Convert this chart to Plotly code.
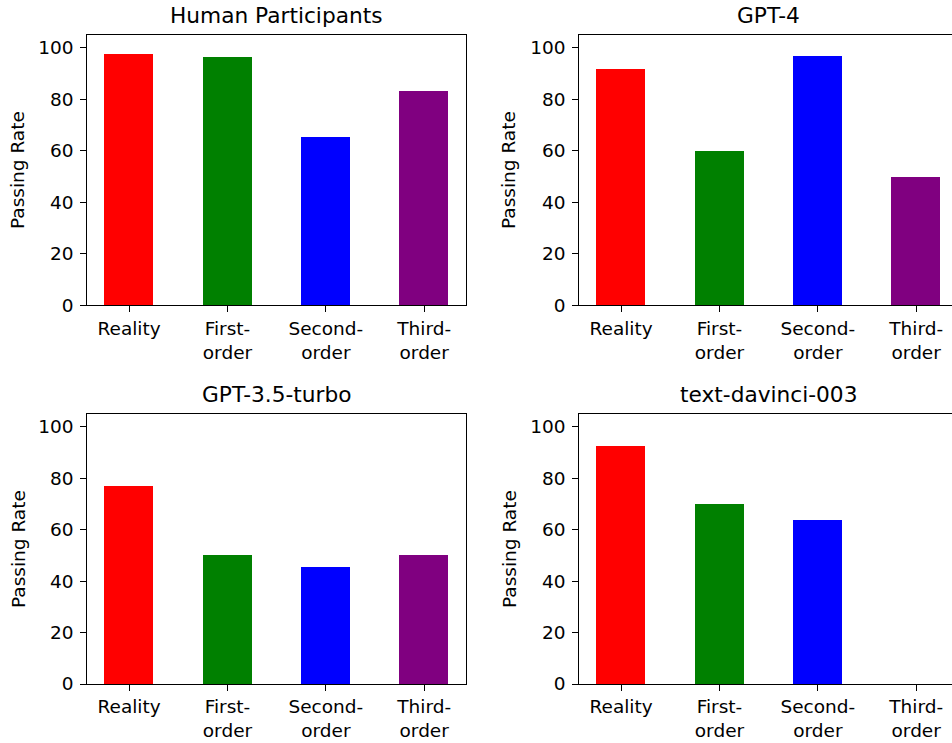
import plotly.graph_objects as go

categories = ["Reality", "First-<br>order", "Second-<br>order", "Third-<br>order"]
bar_colors = ["red", "green", "blue", "purple"]

titles = ["Human Participants", "GPT-4", "GPT-3.5-turbo", "text-davinci-003"]
human_vals = [97.7, 96.5, 65.3, 83.2]
gpt4_vals = [92.0, 60.0, 97.0, 50.0]
gpt35_vals = [77.0, 50.0, 45.5, 50.0]
davinci_vals = [92.5, 70.0, 63.7, 0.0]
all_vals = [human_vals, gpt4_vals, gpt35_vals, davinci_vals]

W, H = 952, 743
FONT = "DejaVu Sans"

# panel pixel boxes: (left, right, top, bottom)
boxes = [
    (87.3, 466.0, 34.7, 305.3),
    (579.3, 952.0, 34.7, 305.3),
    (87.3, 466.0, 414.0, 684.0),
    (579.3, 952.0, 414.0, 684.0),
]
ylabel_x = [18, 509, 18, 509]
px_per_unit = (466.0 - 87.3) / 3.85

fig = go.Figure()
annotations = []
for i, (vals, title, box) in enumerate(zip(all_vals, titles, boxes)):
    l, r, t, b = box
    n = i + 1
    xa = "x" if n == 1 else f"x{n}"
    ya = "y" if n == 1 else f"y{n}"
    fig.add_trace(go.Bar(
        x=categories, y=vals, marker=dict(color=bar_colors, line=dict(width=0)),
        width=0.5, xaxis=xa, yaxis=ya, showlegend=False,
    ))
    right_col = (i % 2 == 1)
    xmax = -0.425 + (r - l) / px_per_unit
    xdom = [l / W, r / W]
    ydom = [(H - b) / H, (H - t) / H]
    xkey = "xaxis" if n == 1 else f"xaxis{n}"
    ykey = "yaxis" if n == 1 else f"yaxis{n}"
    fig.layout[xkey] = dict(
        domain=xdom, anchor=ya, range=[-0.425, xmax], type="category",
        showline=True, linecolor="black", linewidth=1.1, mirror=True,
        ticks="outside", ticklen=6, tickwidth=1.1, tickcolor="black",
        tickfont=dict(family=FONT, size=18.5, color="black"),
        showgrid=False, zeroline=False, fixedrange=True, automargin=False,
    )
    fig.layout[ykey] = dict(
        domain=ydom, anchor=xa, range=[0, 105],
        tickvals=[0, 20, 40, 60, 80, 100],
        showline=True, linecolor="black", linewidth=1.1,
        mirror=(not right_col),
        ticks="outside", ticklen=6, tickwidth=1.1, tickcolor="black",
        ticklabelstandoff=3,
        tickfont=dict(family=FONT, size=18.5, color="black"),
        showgrid=False, zeroline=False, fixedrange=True, automargin=False,
    )
    annotations.append(dict(
        text=title, xref="paper", yref="paper",
        x=(l + 378.7 / 2) / W, y=(H - t) / H, yshift=5,
        xanchor="center", yanchor="bottom", showarrow=False,
        font=dict(family=FONT, size=21.7, color="black"),
    ))
    annotations.append(dict(
        text="Passing Rate", xref="paper", yref="paper",
        x=ylabel_x[i] / W, y=(H - (t + b) / 2) / H, textangle=-90,
        xanchor="center", yanchor="middle", showarrow=False,
        font=dict(family=FONT, size=18.5, color="black"),
    ))

fig.update_layout(
    width=W, height=H, margin=dict(l=0, r=0, t=0, b=0, autoexpand=False),
    paper_bgcolor="white", plot_bgcolor="white",
    annotations=annotations, bargap=0,
    font=dict(family=FONT, color="black"),
)

fig.write_html("out.html")
